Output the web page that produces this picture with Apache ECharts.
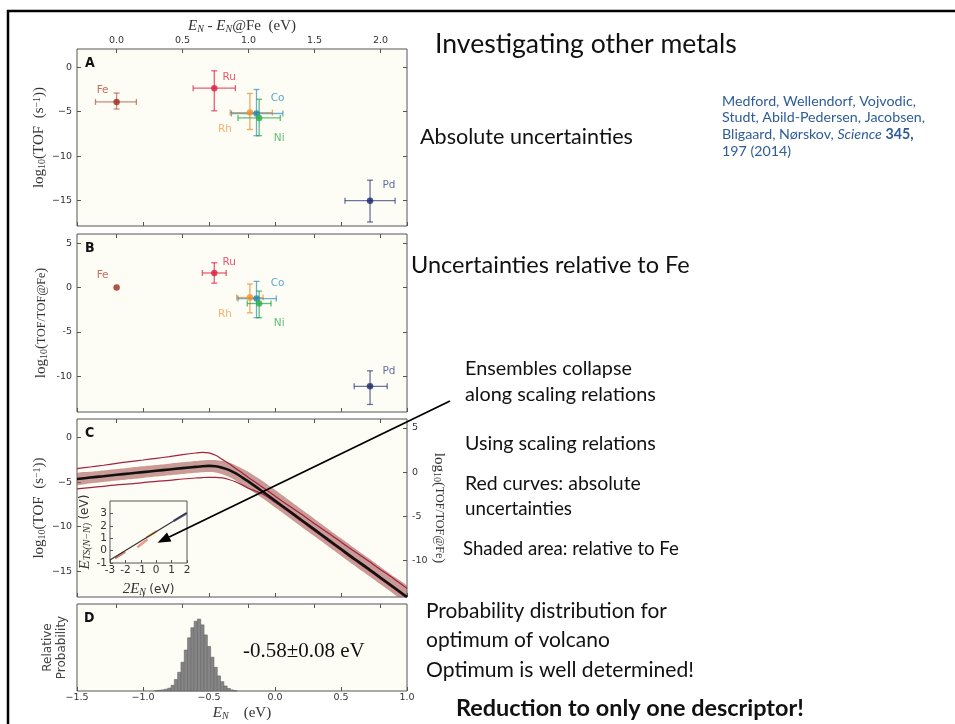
<!DOCTYPE html>
<html>
<head>
<meta charset="utf-8">
<script src="https://cdn.jsdelivr.net/npm/echarts@6/dist/echarts.min.js"></script>
<style>
html,body{margin:0;padding:0;background:#fff}
#main{width:955px;height:724px}
</style>
</head>
<body>
<div id="main"></div>
<script>
// metals shown in panels A and B
var metals = ['Fe', 'Ru', 'Rh', 'Co', 'Ni', 'Pd'];

// panel A: absolute uncertainties, x = E_N - E_N@Fe (eV), y = log10(TOF)
var absX     = [0.00, 0.74, 1.01, 1.06, 1.08, 1.92];
var absXLow  = [-0.16, 0.58, 0.86, 0.87, 0.92, 1.73];
var absXHigh = [0.15, 0.90, 1.18, 1.26, 1.24, 2.11];
var absY     = [-3.9, -2.35, -5.1, -5.2, -5.7, -15.0];
var absYLow  = [-4.7, -4.9, -7.0, -7.7, -7.7, -17.4];
var absYHigh = [-2.9, -0.4, -2.95, -2.5, -3.6, -12.7];

// panel B: relative to Fe
var relX     = [0.00, 0.74, 1.01, 1.06, 1.08, 1.92];
var relXLow  = [0.00, 0.65, 0.91, 0.92, 0.99, 1.80];
var relXHigh = [0.00, 0.83, 1.11, 1.21, 1.17, 2.05];
var relY     = [0.0, 1.65, -1.13, -1.24, -1.8, -11.15];
var relYLow  = [0.0, 0.5, -2.85, -3.4, -3.4, -13.2];
var relYHigh = [0.0, 2.8, 0.4, 0.7, -0.4, -9.4];

// panel C: volcano curves vs E_N (eV)
var volcanoEN = [-1.5, -1.4, -1.3, -1.2, -1.1, -1.0, -0.9, -0.8, -0.7, -0.6, -0.55, -0.5, -0.45, -0.4, -0.35,
                 -0.3, -0.25, -0.2, -0.1, 0.0, 0.1, 0.2, 0.3, 0.4, 0.5, 0.6, 0.7, 0.8, 0.9, 1.0];
var volcanoBest = [-4.64, -4.48, -4.33, -4.17, -4.02, -3.87, -3.72, -3.57, -3.42, -3.28, -3.21, -3.17, -3.2, -3.37, -3.62,
                   -3.99, -4.45, -4.94, -5.99, -7.07, -8.16, -9.25, -10.33, -11.42, -12.51, -13.6, -14.64, -15.73, -16.81, -17.9];
var volcanoUpper = [-3.48, -3.29, -3.1, -2.88, -2.69, -2.51, -2.32, -2.13, -1.91, -1.72, -1.65, -1.7, -1.98, -2.43, -2.9,
                    -3.44, -3.95, -4.49, -5.5, -6.55, -7.6, -8.61, -9.66, -10.67, -11.72, -12.77, -13.78, -14.83, -15.84, -16.93];
var volcanoLower = [-5.76, -5.61, -5.46, -5.31, -5.2, -5.05, -4.9, -4.79, -4.64, -4.53, -4.48, -4.45, -4.45, -4.52, -4.7,
                    -4.95, -5.3, -5.7, -6.3, -7.25, -8.3, -9.4, -10.48, -11.57, -12.66, -13.75, -14.8, -15.88, -16.96, -18.05];
var bandHigh = [-3.99, -3.83, -3.68, -3.52, -3.37, -3.22, -3.07, -2.92, -2.77, -2.62, -2.55, -2.5, -2.5, -2.6, -2.8,
                -3.1, -3.45, -3.85, -4.8, -5.85, -6.95, -8.05, -9.13, -10.22, -11.31, -12.4, -13.44, -14.53, -15.61, -16.7];
var bandLow  = [-5.29, -5.13, -4.98, -4.82, -4.67, -4.52, -4.37, -4.22, -4.07, -3.93, -3.87, -3.85, -3.9, -4.1, -4.4,
                -4.8, -5.25, -5.74, -6.75, -7.82, -8.91, -10.0, -11.08, -12.17, -13.26, -14.35, -15.39, -16.48, -17.56, -18.65];

// inset: scaling relation, x = 2E_N, y = E_TS(N-N)
var scalingX = [-3, 2];
var scalingY = [-0.75, 3.05];
var insetSegX = [[-2.67, -2.02], [-1.22, -0.57], [-0.65, 0.04], [1.13, 1.96]];
var insetSegY = [[-0.62, -0.09], [0.27, 0.91], [1.04, 1.58], [2.39, 3.0]];

// panel D: histogram of volcano optimum
var histWidth = 0.025;
var histCenters = [-0.900, -0.875, -0.850, -0.825, -0.800, -0.775, -0.750, -0.725, -0.700, -0.675, -0.650, -0.625, -0.600,
                   -0.575, -0.550, -0.525, -0.500, -0.475, -0.450, -0.425, -0.400, -0.375, -0.350, -0.325, -0.300];
var histCounts = [0.5, 1, 1.5, 2.5, 4, 8, 16, 26, 40, 57, 74, 88, 97, 100, 92, 78, 62, 47, 33, 21, 13, 7, 3.5, 1.5, 0.5];

// tick labels
var relTicks = [0, 0.5, 1, 1.5, 2];
var absYTicks = [-15, -10, -5, 0];
var relYTicks = [-10, -5, 0, 5];
var insetYTicks = [-1, 0, 1, 2, 3];

// arrow from the text to the inset, in panel C coordinates (E_N, log10 TOF)
var arrowFrom = [1.326, 4.12];
var arrowTo = [-0.89, -11.8];

// styles
var pointColors = ['#9e2a1c', '#dc1f3c', '#f0922a', '#2486b4', '#2aae4a', '#1c2a68'];
var barColors = ['rgba(170,60,45,0.6)', 'rgba(225,40,70,0.75)', 'rgba(240,150,50,0.8)', 'rgba(40,130,180,0.65)', 'rgba(40,170,75,0.75)', 'rgba(30,45,110,0.65)'];
var labelColors = ['#b8483a', '#e0304c', '#f3a04a', '#3390c0', '#33b050', '#3a4888'];
var labelOffsets = [[-14, -12], [15, -11], [-25, 17], [21, -15], [20, 20], [19, -15]];
var insetColors = ['#c8584a', '#f07a68', '#e8a048', '#34407e'];

var frameColor = '#555';
var plotBg = '#fdfdf6';
var serif = 'Liberation Serif';
var sans = 'DejaVu Sans';
var minus = function (v, dec) {
    var s = dec ? v.toFixed(dec) : String(v);
    return s.replace('-', '\u2212');
};
function $ext(a, b) { for (var k in b) a[k] = b[k]; return a; }

function ticks(vals, len) {
    var t = {show: true, inside: true, length: len || 4, lineStyle: {color: frameColor, width: 1}};
    if (vals) t.customValues = vals;
    return t;
}
var noLine = {show: false, onZero: false};
var mathRich = {
    t: {fontFamily: serif, fontSize: 15, color: '#333'},
    i: {fontFamily: serif, fontSize: 15, fontStyle: 'italic', color: '#333'},
    s: {fontFamily: serif, fontSize: 10, color: '#333', verticalAlign: 'bottom'},
    si: {fontFamily: serif, fontSize: 10, fontStyle: 'italic', color: '#333', verticalAlign: 'bottom'},
    p: {fontFamily: serif, fontSize: 10, color: '#333', verticalAlign: 'top'},
    f: {fontFamily: serif, fontSize: 12, color: '#333'},
    u: {fontFamily: sans, fontSize: 12, color: '#333'}
};

var grids = [
    {left: 77, top: 49, width: 330, height: 177},
    {left: 77, top: 234, width: 330, height: 178},
    {left: 77, top: 419, width: 330, height: 178},
    {left: 77, top: 604, width: 330, height: 87},
    {left: 110, top: 501, width: 77, height: 62}
].map(function (g) {
    return $ext({show: true, borderColor: frameColor, borderWidth: 1, backgroundColor: plotBg}, g);
});

function topAxis(gi, withLabels) {
    var ax = {
        type: 'value', gridIndex: gi, position: 'top', min: -0.3, max: 2.2,
        axisLine: noLine, splitLine: {show: false},
        axisTick: ticks(relTicks),
        axisLabel: {show: withLabels, customValues: relTicks, margin: 3,
            formatter: function (v) { return v.toFixed(1); }, fontFamily: sans, fontSize: 9.5, color: '#333'}
    };
    if (withLabels) {
        ax.name = '{i|E}{si|N}{t| - }{i|E}{si|N}{t|@Fe  (eV)}';
        ax.nameLocation = 'middle';
        ax.nameGap = 15;
        ax.nameTextStyle = {rich: mathRich};
    }
    return ax;
}
function bottomAxis(gi, withLabels) {
    var ax = {
        type: 'value', gridIndex: gi, position: 'bottom', min: -1.5, max: 1.0, interval: 0.5,
        axisLine: noLine, splitLine: {show: false},
        axisTick: ticks(),
        axisLabel: {show: withLabels, margin: 2, showMinLabel: true, showMaxLabel: true,
            formatter: function (v) { return minus(v, 1); }, fontFamily: sans, fontSize: 9.5, color: '#333'}
    };
    if (withLabels) {
        ax.name = '{i|E}{si|N}{t|    (eV)}';
        ax.nameLocation = 'middle';
        ax.nameGap = 15;
        ax.nameTextStyle = {rich: mathRich};
    }
    return ax;
}
function sideY(gi, pos, min, max, vals, fmt, name, gap, rot) {
    var ax = {
        type: 'value', gridIndex: gi, position: pos, min: min, max: max,
        axisLine: noLine, splitLine: {show: false},
        axisTick: ticks(vals),
        axisLabel: {show: !!fmt, customValues: vals, margin: 5, formatter: fmt, fontFamily: sans, fontSize: 9.5, color: '#333'}
    };
    if (name) {
        ax.name = name;
        ax.nameLocation = 'middle';
        ax.nameGap = gap;
        ax.nameRotate = rot;
        ax.nameTextStyle = {rich: mathRich};
    }
    return ax;
}

var xAxes = [
    topAxis(0, true), bottomAxis(0, false),
    topAxis(1, false), bottomAxis(1, false),
    topAxis(2, false), bottomAxis(2, false),
    topAxis(3, false), bottomAxis(3, true),
    {type: 'value', gridIndex: 4, min: -3, max: 2, interval: 1, axisLine: noLine, splitLine: {show: false},
     axisTick: ticks(null, 3), axisLabel: {margin: 2, fontFamily: sans, fontSize: 10.5, color: '#333'},
     name: '{i|2E}{si|N} {u|(eV)}', nameLocation: 'middle', nameGap: 19,
     nameTextStyle: {rich: mathRich}}
];
var yAxes = [
    sideY(0, 'left', -17.85, 2.05, absYTicks, function (v) { return minus(v); },
          '{t|log}{s|10}{t|(TOF  (s}{p|\u22121}{t|))}', 30, 90),
    sideY(0, 'right', -17.85, 2.05, absYTicks, null),
    sideY(1, 'left', -14.05, 6.05, relYTicks, function (v) { return String(v); },
          '{t|log}{s|10}{t|(}{f|TOF/TOF@Fe}{t|)}', 28, 90),
    sideY(1, 'right', -14.05, 6.05, relYTicks, null),
    sideY(2, 'left', -17.9, 2.1, absYTicks, function (v) { return minus(v); },
          '{t|log}{s|10}{t|(TOF  (s}{p|\u22121}{t|))}', 30, 90),
    sideY(2, 'right', -14.1, 6.0, relYTicks, function (v) { return String(v); },
          '{t|log}{s|10}{t|(}{f|TOF/TOF@Fe}{t|)}', 20, -90),
    {type: 'value', gridIndex: 3, min: 0, max: 121, axisLine: noLine, splitLine: {show: false},
     axisTick: {show: false}, axisLabel: {show: false},
     name: 'Relative\nProbability', nameLocation: 'middle', nameGap: 8, nameRotate: 90,
     nameTextStyle: {fontFamily: sans, fontSize: 12, color: '#444', lineHeight: 14}},
    {type: 'value', gridIndex: 4, min: -1, max: 4, axisLine: noLine, splitLine: {show: false},
     axisTick: ticks(insetYTicks, 3),
     axisLabel: {customValues: insetYTicks, margin: 3, fontFamily: sans, fontSize: 10.5, color: '#333'},
     name: '{i|E}{si|TS(N\u2212N)} {u|(eV)}', nameLocation: 'middle', nameGap: 13, nameRotate: 90,
     nameTextStyle: {rich: mathRich}}
];

function errorSeries(xi, yi, xs, xl, xh, ys, yl, yh) {
    return {
        type: 'custom', xAxisIndex: xi, yAxisIndex: yi, z: 3,
        data: metals.map(function (m, i) { return [xs[i], ys[i], xl[i], xh[i], yl[i], yh[i], i]; }),
        renderItem: function (params, api) {
            var x = api.value(0), y = api.value(1), i = api.value(6);
            var kids = [];
            var st = {stroke: barColors[i], lineWidth: 1.3};
            var cap = 3;
            if (api.value(2) !== api.value(3)) {
                var l = api.coord([api.value(2), y]), r = api.coord([api.value(3), y]);
                kids.push({type: 'line', shape: {x1: l[0], y1: l[1], x2: r[0], y2: r[1]}, style: st});
                kids.push({type: 'line', shape: {x1: l[0], y1: l[1] - cap, x2: l[0], y2: l[1] + cap}, style: st});
                kids.push({type: 'line', shape: {x1: r[0], y1: r[1] - cap, x2: r[0], y2: r[1] + cap}, style: st});
            }
            if (api.value(4) !== api.value(5)) {
                var b = api.coord([x, api.value(4)]), t = api.coord([x, api.value(5)]);
                kids.push({type: 'line', shape: {x1: b[0], y1: b[1], x2: t[0], y2: t[1]}, style: st});
                kids.push({type: 'line', shape: {x1: b[0] - cap, y1: b[1], x2: b[0] + cap, y2: b[1]}, style: st});
                kids.push({type: 'line', shape: {x1: t[0] - cap, y1: t[1], x2: t[0] + cap, y2: t[1]}, style: st});
            }
            return {type: 'group', children: kids};
        }
    };
}
function pointSeries(xi, yi, xs, ys) {
    return {
        type: 'scatter', xAxisIndex: xi, yAxisIndex: yi, z: 4, symbolSize: 6.5,
        data: metals.map(function (m, i) {
            return {
                value: [xs[i], ys[i]], name: m,
                itemStyle: {color: pointColors[i]},
                label: {show: true, formatter: m, position: 'inside', offset: labelOffsets[i],
                        color: labelColors[i], fontFamily: sans, fontSize: 10.5}
            };
        })
    };
}
function pairs(xs, ys) { return xs.map(function (x, i) { return [x, ys[i]]; }); }

var series = [
    errorSeries(0, 0, absX, absXLow, absXHigh, absY, absYLow, absYHigh),
    pointSeries(0, 0, absX, absY),
    errorSeries(2, 2, relX, relXLow, relXHigh, relY, relYLow, relYHigh),
    pointSeries(2, 2, relX, relY),
    // shaded band (relative uncertainty) as one polygon through the axis scales
    {type: 'custom', xAxisIndex: 5, yAxisIndex: 4, clip: true, z: 2, silent: true,
     data: volcanoEN.map(function (x, i) { return [x, bandLow[i], bandHigh[i]]; }),
     renderItem: function (params, api) {
         if (params.dataIndex !== 0) return;
         var top = [], bot = [];
         for (var i = 0; i < volcanoEN.length; i++) {
             top.push(api.coord([volcanoEN[i], bandHigh[i]]));
             bot.unshift(api.coord([volcanoEN[i], bandLow[i]]));
         }
         return {type: 'polygon', shape: {points: top.concat(bot), smooth: 0.2},
                 style: {fill: 'rgba(168,88,88,0.6)', stroke: null}};
     }},
    {type: 'line', xAxisIndex: 5, yAxisIndex: 4, symbol: 'none', smooth: 0.3, z: 3,
     lineStyle: {color: '#a3223e', width: 1.2}, data: pairs(volcanoEN, volcanoUpper)},
    {type: 'line', xAxisIndex: 5, yAxisIndex: 4, symbol: 'none', smooth: 0.3, z: 3,
     lineStyle: {color: '#a3223e', width: 1.2}, data: pairs(volcanoEN, volcanoLower)},
    {type: 'line', xAxisIndex: 5, yAxisIndex: 4, symbol: 'none', smooth: 0.3, z: 6,
     lineStyle: {color: '#111', width: 2.6}, data: pairs(volcanoEN, volcanoBest)},
    {type: 'line', xAxisIndex: 8, yAxisIndex: 7, symbol: 'none', z: 5,
     lineStyle: {color: '#333', width: 1.2}, data: pairs(scalingX, scalingY)}
];
insetSegX.forEach(function (xs, k) {
    series.push({type: 'line', xAxisIndex: 8, yAxisIndex: 7, symbol: 'none', z: 4,
                 lineStyle: {color: insetColors[k], width: 2.4, opacity: 0.8}, data: pairs(xs, insetSegY[k])});
});
series.push({
    type: 'custom', xAxisIndex: 7, yAxisIndex: 6,
    data: pairs(histCenters, histCounts),
    renderItem: function (params, api) {
        var x = api.value(0), h = api.value(1);
        var p0 = api.coord([x - histWidth / 2, h]), p1 = api.coord([x + histWidth / 2, 0]);
        return {type: 'rect', shape: {x: p0[0], y: p0[1], width: p1[0] - p0[0], height: p1[1] - p0[1]},
                style: {fill: '#858585', stroke: '#666', lineWidth: 0.6}};
    }
});

// text on the slide
var measureCtx = document.createElement('canvas').getContext('2d');
function fitSize(text, family, weight, width) {
    measureCtx.font = weight + ' 100px "' + family + '"';
    return 100 * width / measureCtx.measureText(text).width;
}
var slideFont = 'Lato';
var slideTexts = [
    ['Investigating other metals', 435, 47, 302, 'normal'],
    ['Absolute uncertainties', 420, 139, 213, 'normal'],
    ['Uncertainties relative to Fe', 411, 268, 279, 'normal'],
    ['Ensembles collapse', 465, 371, 167, 'normal'],
    ['along scaling relations', 465, 397, 191, 'normal'],
    ['Using scaling relations', 465, 446, 191, 'normal'],
    ['Red curves: absolute', 465, 486, 176, 'normal'],
    ['uncertainties', 465, 511, 107, 'normal'],
    ['Shaded area: relative to Fe', 463, 551, 216, 'normal'],
    ['Probability distribution for', 426, 614, 241, 'normal'],
    ['optimum of volcano', 426, 643, 184, 'normal'],
    ['Optimum is well determined!', 426, 673, 268, 'normal'],
    ['Reduction to only one descriptor!', 456, 711, 348, 'bold']
];
var graphics = [
    {type: 'polyline', shape: {points: [[8, 740], [8, 11], [960, 11]]}, style: {stroke: '#000', lineWidth: 2.5, fill: null}, z: 50}
];
slideTexts.forEach(function (t) {
    var fs = fitSize(t[0], slideFont, t[4], t[3]);
    graphics.push({type: 'text', left: t[1], top: t[2] - 0.62 * fs, z: 50,
        style: {text: t[0], fontFamily: slideFont, fontWeight: t[4], fontSize: fs, fill: '#111'}});
});
var citeSize = fitSize('Medford, Wellendorf, Vojvodic,', slideFont, 'normal', 194);
var citeLines = ['Medford, Wellendorf, Vojvodic,', 'Studt, Abild-Pedersen, Jacobsen,',
                 'Bligaard, N\u00f8rskov, {it|Science} {bd|345,}', '197 (2014)'];
citeLines.forEach(function (line, k) {
    graphics.push({type: 'text', left: 722, top: 94 + k * 16.7, z: 50,
        style: {text: line, fontFamily: slideFont, fontSize: citeSize, fill: '#2f5c98',
                rich: {it: {fontFamily: slideFont, fontSize: citeSize, fontStyle: 'italic', fill: '#2f5c98'},
                       bd: {fontFamily: slideFont, fontSize: citeSize, fontWeight: 'bold', fill: '#2f5c98'}}}});
});
[['A', 85, 56], ['B', 85, 241], ['C', 85, 426], ['D', 84, 611]].forEach(function (p) {
    graphics.push({type: 'text', left: p[1], top: p[2], z: 50,
        style: {text: p[0], fontFamily: 'DejaVu Sans Condensed', fontWeight: 'bold', fontSize: 14, fill: '#111'}});
});
graphics.push({type: 'text', left: 243, top: 641, z: 50,
    style: {text: '-0.58\u00b10.08 eV', fontFamily: serif, fontSize: 21, fill: '#111'}});

var chart = echarts.init(document.getElementById('main'));
chart.setOption({
    backgroundColor: '#fff',
    animation: false,
    grid: grids,
    xAxis: xAxes,
    yAxis: yAxes,
    series: series,
    graphic: graphics
});

// arrow: endpoints mapped through panel C's axes
var finder = {xAxisIndex: 5, yAxisIndex: 4};
var a0 = chart.convertToPixel(finder, arrowFrom);
var a1 = chart.convertToPixel(finder, arrowTo);
var ang = Math.atan2(a1[1] - a0[1], a1[0] - a0[0]);
var headLen = 13, headHalf = 5;
var base = [a1[0] - headLen * Math.cos(ang), a1[1] - headLen * Math.sin(ang)];
graphics.push({type: 'line', z: 60, shape: {x1: a0[0], y1: a0[1], x2: base[0], y2: base[1]},
               style: {stroke: '#000', lineWidth: 1.8}});
graphics.push({type: 'polygon', z: 60, shape: {points: [a1,
    [base[0] + headHalf * Math.sin(ang), base[1] - headHalf * Math.cos(ang)],
    [base[0] - headHalf * Math.sin(ang), base[1] + headHalf * Math.cos(ang)]]}, style: {fill: '#000'}});
chart.setOption({graphic: graphics});
</script>
</body>
</html>
